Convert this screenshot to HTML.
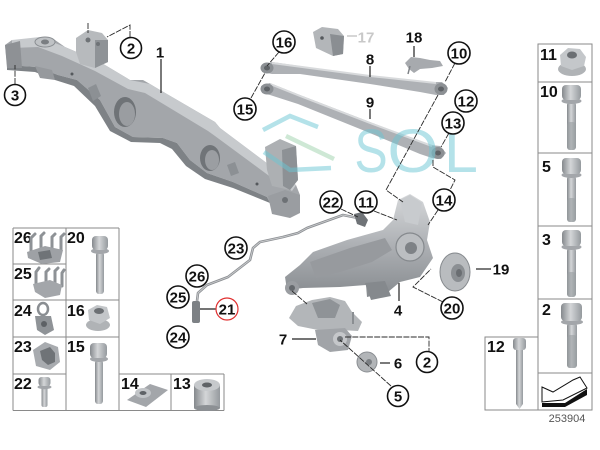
<!DOCTYPE html>
<html><head><meta charset="utf-8"><style>
html,body{margin:0;padding:0;background:#fff;}
body{width:600px;height:450px;overflow:hidden;}
svg{display:block;}
.lb{font-family:"Liberation Sans",Arial,sans-serif;font-weight:bold;font-size:15px;fill:#111;}
.gl{font-family:"Liberation Sans",Arial,sans-serif;font-weight:bold;font-size:16px;fill:#111;}
.ld{stroke:#2a2a2a;stroke-width:0.9;fill:none;stroke-dasharray:6 1.3;}
.ls{stroke:#222;stroke-width:1.2;fill:none;}
.cc{fill:#fff;stroke:#111;stroke-width:1.6;}
.gr{stroke:#8a8a8a;stroke-width:1;fill:none;}
</style></head><body>
<svg width="600" height="450" viewBox="0 0 600 450" xmlns="http://www.w3.org/2000/svg">
<defs>
<linearGradient id="mv" x1="0" y1="0" x2="0" y2="1"><stop offset="0" stop-color="#d6d8da"/><stop offset=".5" stop-color="#adb0b4"/><stop offset="1" stop-color="#878b8f"/></linearGradient>
<linearGradient id="mh" x1="0" y1="0" x2="1" y2="0"><stop offset="0" stop-color="#85898d"/><stop offset=".45" stop-color="#d4d6d8"/><stop offset="1" stop-color="#959a9e"/></linearGradient>
</defs>

<!-- ===== Subframe (1) ===== -->
<polygon points="5,45 12,40 25,40 40,37 55,40 65,47 100,62 130,80 143,80 150,84 160,90 215,122 220,128 280,173 288,180 296,185 300,195 300,212 290,217 275,214 267,197 233,182 207,173 190,160 177,143 163,138 133,137 115,127 100,100 77,80 58,75 37,67 7,65" fill="#a3a6aa"/>
<polygon points="12,40 40,37 65,47 100,62 130,80 150,84 160,90 215,122 220,128 280,173 296,185 292,191 276,181 215,136 208,131 155,99 145,93 128,89 95,71 62,56 38,47 12,48" fill="#c7cacd"/>
<polygon points="7,65 37,67 58,75 77,80 100,100 115,127 133,137 163,138 177,143 190,160 207,173 233,182 267,197 270,203 233,188 205,179 186,166 172,149 160,143 131,142 110,131 95,106 74,86 55,80 35,72 7,70" fill="#7e8286"/>
<polygon points="5,45 20,41 22,68 7,68" fill="#8e9195"/>
<ellipse cx="45" cy="42" rx="10" ry="5" fill="#bfc2c5" stroke="#8a8e92" stroke-width="1"/>
<ellipse cx="45" cy="42" rx="4" ry="2.5" fill="#7a7e82"/>
<polygon points="35,66 52,70 55,80 40,78" fill="#96999d"/>
<ellipse cx="125" cy="112" rx="11" ry="15" fill="#6f7377"/>
<ellipse cx="127" cy="114" rx="8" ry="12" fill="#9a9da1"/>
<ellipse cx="210" cy="158" rx="10" ry="13" fill="#707478"/>
<ellipse cx="212" cy="160" rx="7" ry="10" fill="#9b9ea2"/>
<polygon points="88,88 96,84 101,96 93,101" fill="#8c9094"/>
<polygon points="227,165 235,162 239,173 231,176" fill="#8c9094"/>
<circle cx="72" cy="74" r="1.5" fill="#55595d"/>
<circle cx="257" cy="184" r="1.5" fill="#55595d"/>
<!-- bracket 2 -->
<polygon points="76,38 88,30 102,33 108,40 108,62 95,68 80,64 76,52" fill="#b7babd"/>
<polygon points="95,40 108,40 108,62 95,68" fill="#8f9397"/>
<circle cx="88" cy="40" r="2.5" fill="#6f7377"/>
<circle cx="98" cy="44" r="2" fill="#6f7377"/>
<!-- right bracket -->
<polygon points="265,147 280,139 296,146 298,180 290,190 272,186 267,170" fill="#adb0b3"/>
<polygon points="282,150 296,146 298,180 290,190 283,186" fill="#8d9195"/>
<polygon points="268,196 285,190 300,195 300,213 290,218 272,214" fill="#9a9da1"/>
<circle cx="285" cy="200" r="3" fill="#6d7175"/>

<!-- ===== Arms 8 & 9 ===== -->
<polygon points="262,66 272,62 300,66 370,76 430,82 442,82 448,88 444,95 436,95 420,92 370,84 300,74 272,74 262,72" fill="#aeb1b5"/>
<polyline points="272,63 370,76 436,83" stroke="#d8dadc" stroke-width="2" fill="none"/>
<ellipse cx="267" cy="68" rx="6.5" ry="5.5" fill="#8c9094"/><ellipse cx="267" cy="68" rx="3" ry="2.5" fill="#5f6367"/>
<ellipse cx="441" cy="89" rx="6.5" ry="6" fill="#8c9094"/><ellipse cx="441" cy="89" rx="3" ry="2.5" fill="#5f6367"/>
<polygon points="261,86 270,83 300,95 370,122 430,145 440,146 446,153 441,159 432,158 420,154 365,131 298,104 270,95 262,93" fill="#aeb1b5"/>
<polyline points="270,84 300,96 370,123 432,146" stroke="#d8dadc" stroke-width="2" fill="none"/>
<ellipse cx="267" cy="89" rx="6.5" ry="5.5" fill="#8c9094"/><ellipse cx="267" cy="89" rx="3" ry="2.5" fill="#5f6367"/>
<ellipse cx="438" cy="153" rx="6.5" ry="6" fill="#8c9094"/><ellipse cx="438" cy="153" rx="3" ry="2.5" fill="#5f6367"/>

<!-- part 17 -->
<polygon points="313,32 322,27 338,29 344,36 343,54 333,56 316,48" fill="#b3b6b9"/>
<polygon points="330,34 344,36 343,54 333,56" fill="#8a8e92"/>
<circle cx="322" cy="38" r="1.8" fill="#55595d"/>
<!-- part 18 -->
<polygon points="405,63 411,57 420,58 430,60 440,61 443,66 432,68 420,69 414,73 409,69" fill="#a7aaae"/>
<line x1="410" y1="66" x2="408" y2="74" stroke="#7d8185" stroke-width="1.5"/>

<!-- ===== Knuckle (4) ===== -->
<polygon points="287,290 285,277 300,265 313,252 347,240 383,230 393,220 398,200 410,194 423,202 430,222 427,240 433,258 420,277 400,282 388,292 367,297 366,285 340,287 303,288" fill="url(#mv)"/>
<polygon points="310,262 350,248 385,238 392,250 372,262 340,272 316,278" fill="#979a9e"/>
<polygon points="400,200 410,195 422,203 418,225 405,222" fill="#c8cbce"/>
<polygon points="365,283 385,281 391,296 371,300" fill="#85898d"/>
<circle cx="410" cy="247" r="14" fill="#bbbec1" stroke="#85898d" stroke-width="1.2"/>
<circle cx="411" cy="248" r="6" fill="#7e8286"/>
<ellipse cx="292" cy="288" rx="7" ry="7" fill="#9a9da1"/><circle cx="292" cy="288" r="3" fill="#65696d"/>

<!-- hub 19 -->
<ellipse cx="455" cy="272" rx="15" ry="19" fill="#b9bcbf" stroke="#868a8e" stroke-width="1"/>
<ellipse cx="458" cy="273" rx="7" ry="9" fill="#8b8f93"/>
<ellipse cx="459" cy="273" rx="3" ry="4" fill="#6a6e72"/>

<!-- part 7 -->
<polygon points="289,318 296,306 312,300 330,297 345,301 352,312 362,322 358,331 340,330 318,330 298,326" fill="#b3b6b9"/>
<polygon points="312,303 330,299 340,305 335,318 318,318" fill="#8f9397"/>
<line x1="353" y1="312" x2="353" y2="324" stroke="#8a8e92" stroke-width="2"/>
<polygon points="315,330 345,328 352,336 348,350 330,352 318,345" fill="#a1a4a8"/>
<ellipse cx="340" cy="339" rx="7" ry="7" fill="#c5c7ca"/><circle cx="340" cy="339" r="3" fill="#6f7377"/>

<!-- washer 6 -->
<ellipse cx="367" cy="362" rx="10" ry="10" fill="#b2b5b8" stroke="#8a8e92" stroke-width="1"/>
<circle cx="369" cy="362" r="3" fill="#7b7f83"/>

<!-- sensor cable -->
<polyline points="358,218 343,215 307,228 298,233 283,237 260,242 253,248 250,260 228,277 207,285 198,293 197,301" stroke="#8d9094" stroke-width="2.6" fill="none" stroke-linejoin="round"/>
<polyline points="358,218 343,215 307,228 298,233 283,237 260,242 253,248 250,260 228,277 207,285 198,293 197,301" stroke="#c9cbcd" stroke-width="0.9" fill="none"/>
<polygon points="354,214 362,212 368,220 365,227 357,224" fill="#6f7377"/>
<rect x="192" y="301" width="8" height="22" rx="2" fill="#7d8185"/>

<!-- ===== Watermark ===== -->
<g opacity="0.5">
<polyline points="263,130 290,116 318,127" stroke="#6bc6d4" stroke-width="4.5" fill="none"/>
<line x1="286" y1="136" x2="334" y2="159" stroke="#9ed3ad" stroke-width="4.5"/>
<polyline points="264,152 290,170 331,168" stroke="#6bc6d4" stroke-width="4.5" fill="none"/>
<text transform="translate(371,172) scale(0.82,1)" text-anchor="middle" font-family="Liberation Sans, sans-serif" font-size="61" fill="#6bc6d4">S</text>
<text transform="translate(413,172) scale(1.08,1)" text-anchor="middle" font-family="Liberation Sans, sans-serif" font-size="61" fill="#6bc6d4">O</text>
<text x="444" y="172" font-family="Liberation Sans, sans-serif" font-size="61" fill="#6bc6d4">L</text>
</g>

<!-- ===== Leader lines ===== -->
<line class="ls" x1="161" y1="59" x2="161" y2="93"/>
<line class="ld" x1="15" y1="84" x2="15" y2="65"/>
<line class="ld" x1="88" y1="23" x2="88" y2="33"/>
<polyline class="ld" points="130,37 130,25 107,37"/>
<line class="ld" x1="279" y1="52" x2="267" y2="66"/>
<line class="ld" x1="251" y1="98" x2="265" y2="73"/>
<line class="ls" x1="370" y1="66" x2="370" y2="77"/>
<line class="ls" x1="370" y1="109" x2="370" y2="119"/>
<line class="ls" x1="414" y1="46" x2="414" y2="57"/>
<line class="ls" x1="347" y1="36" x2="357" y2="36" style="stroke:#bbb"/>
<line class="ld" x1="455" y1="63" x2="445" y2="82"/>
<polyline class="ld" points="438,95 386,190 403,202"/>
<line class="ld" x1="449" y1="133" x2="441" y2="147"/>
<polyline class="ld" points="433,160 433,167 455,180 450,190"/>
<line class="ld" x1="438" y1="210" x2="428" y2="225"/>
<line class="ld" x1="341" y1="209" x2="358" y2="217"/>
<line class="ld" x1="374" y1="211" x2="397" y2="220"/>
<polyline class="ld" points="443,302 413,287 431,269"/>
<line class="ls" x1="399" y1="283" x2="399" y2="301"/>
<line class="ls" x1="476" y1="269" x2="491" y2="269"/>
<line class="ls" x1="292" y1="339" x2="316" y2="339"/>
<line class="ls" x1="380" y1="363" x2="390" y2="363"/>
<polyline class="ld" points="345,337 429,337 429,351"/>
<line class="ld" x1="391" y1="386" x2="340" y2="340"/>
<line class="ld" x1="292" y1="291" x2="307" y2="304"/>
<line class="ls" x1="200" y1="309" x2="217" y2="309"/>

<!-- ===== Circled labels ===== -->
<g>
<circle class="cc" cx="131" cy="48" r="10.5"/><text class="lb" x="131" y="53.5" text-anchor="middle">2</text>
<circle class="cc" cx="15" cy="95" r="10.5"/><text class="lb" x="15" y="100.5" text-anchor="middle">3</text>
<circle class="cc" cx="284" cy="42" r="11"/><text class="lb" x="284" y="47.5" text-anchor="middle">16</text>
<circle class="cc" cx="245" cy="109" r="11"/><text class="lb" x="245" y="114.5" text-anchor="middle">15</text>
<circle class="cc" cx="459" cy="53" r="11"/><text class="lb" x="459" y="58.5" text-anchor="middle">10</text>
<circle class="cc" cx="466" cy="101" r="11"/><text class="lb" x="466" y="106.5" text-anchor="middle">12</text>
<circle class="cc" cx="453" cy="123" r="11"/><text class="lb" x="453" y="128.5" text-anchor="middle">13</text>
<circle class="cc" cx="444" cy="200" r="11"/><text class="lb" x="444" y="205.5" text-anchor="middle">14</text>
<circle class="cc" cx="331" cy="202" r="11"/><text class="lb" x="331" y="207.5" text-anchor="middle">22</text>
<circle class="cc" cx="366" cy="202" r="11"/><text class="lb" x="366" y="207.5" text-anchor="middle">11</text>
<circle class="cc" cx="236" cy="248" r="11"/><text class="lb" x="236" y="253.5" text-anchor="middle">23</text>
<circle class="cc" cx="197" cy="276" r="11"/><text class="lb" x="197" y="281.5" text-anchor="middle">26</text>
<circle class="cc" cx="178" cy="297" r="11"/><text class="lb" x="178" y="302.5" text-anchor="middle">25</text>
<circle class="cc" cx="178" cy="337" r="11"/><text class="lb" x="178" y="342.5" text-anchor="middle">24</text>
<circle class="cc" cx="452" cy="308" r="11"/><text class="lb" x="452" y="313.5" text-anchor="middle">20</text>
<circle class="cc" cx="427" cy="362" r="10.5"/><text class="lb" x="427" y="367.5" text-anchor="middle">2</text>
<circle class="cc" cx="398" cy="396" r="10.5"/><text class="lb" x="398" y="401.5" text-anchor="middle">5</text>
<circle cx="227" cy="309" r="11" fill="#fff" stroke="#e03030" stroke-width="1.2"/><text class="lb" x="227" y="314.5" text-anchor="middle">21</text>
</g>

<!-- plain labels -->
<text class="lb" x="160" y="57.5" text-anchor="middle">1</text>
<text class="lb" x="366" y="42.5" text-anchor="middle" style="fill:#c8c8c8">17</text>
<text class="lb" x="370" y="64.5" text-anchor="middle">8</text>
<text class="lb" x="370" y="107.5" text-anchor="middle">9</text>
<text class="lb" x="414" y="42.5" text-anchor="middle">18</text>
<text class="lb" x="283" y="344.5" text-anchor="middle">7</text>
<text class="lb" x="398" y="315.5" text-anchor="middle">4</text>
<text class="lb" x="501" y="274.5" text-anchor="middle">19</text>
<text class="lb" x="398" y="368.5" text-anchor="middle">6</text>

<!-- ===== Bottom-left grid ===== -->
<g class="gr">
<line x1="13" y1="228" x2="13" y2="410.5"/>
<line x1="66" y1="228" x2="66" y2="410.5"/>
<line x1="119" y1="228" x2="119" y2="410.5"/>
<line x1="13" y1="228" x2="119" y2="228"/>
<line x1="13" y1="264" x2="66" y2="264"/>
<line x1="13" y1="300" x2="119" y2="300"/>
<line x1="13" y1="337" x2="119" y2="337"/>
<line x1="13" y1="374" x2="66" y2="374"/>
<line x1="119" y1="374" x2="224" y2="374"/>
<line x1="13" y1="410.5" x2="224" y2="410.5"/>
<line x1="171" y1="374" x2="171" y2="410.5"/>
<line x1="224" y1="374" x2="224" y2="410.5"/>
</g>
<text class="gl" x="14" y="243">26</text>
<text class="gl" x="67" y="243">20</text>
<text class="gl" x="14" y="279">25</text>
<text class="gl" x="14" y="316">24</text>
<text class="gl" x="67" y="316">16</text>
<text class="gl" x="14" y="352">23</text>
<text class="gl" x="67" y="352">15</text>
<text class="gl" x="14" y="389">22</text>
<text class="gl" x="121" y="389">14</text>
<text class="gl" x="173" y="389">13</text>

<!-- 26 clip -->
<g stroke="#8e9296" stroke-width="3" fill="none" stroke-linecap="round">
<polyline points="31,252 31,238 35,234"/><polyline points="41,249 41,236 44,233"/>
<polyline points="52,250 52,237 55,234"/><polyline points="61,251 61,237 64,234"/>
</g>
<polygon points="27,252 45,246 63,250 60,262 42,264 28,258" fill="#9ea1a5"/>
<polygon points="38,252 50,250 52,258 40,260" fill="#6f7377"/>
<!-- 25 clip -->
<g stroke="#8e9296" stroke-width="3" fill="none" stroke-linecap="round">
<polyline points="36,285 36,272 39,268"/><polyline points="46,282 46,272 49,269"/>
<polyline points="55,284 55,271 58,268"/><polyline points="62,286 62,273 64,270"/>
</g>
<polygon points="33,284 50,280 62,285 60,295 45,298 35,292" fill="#a3a6aa"/>
<!-- 24 ring clip -->
<ellipse cx="43" cy="309" rx="5" ry="6" stroke="#8a8e92" stroke-width="2.5" fill="none"/>
<polygon points="35,316 51,316 54,330 45,335 37,330" fill="#8f9397"/>
<circle cx="44" cy="324" r="3" fill="#5d6165"/>
<!-- 23 clip -->
<polygon points="33,350 45,342 58,347 60,362 50,370 36,366" fill="#a8abaf"/>
<polygon points="40,351 50,347 55,353 55,362 48,365 42,360" fill="#6f7377"/>
<!-- 22 bolt -->
<rect x="41.5" y="387" width="6" height="20" rx="2" fill="url(#mh)"/>
<ellipse cx="44.5" cy="387" rx="7" ry="2.2" fill="#a3a6aa"/>
<rect x="38.5" y="377" width="12" height="9" rx="3" fill="url(#mh)"/>
<!-- 20 bolt -->
<rect x="96" y="252" width="8" height="42" rx="3" fill="url(#mh)"/>
<ellipse cx="100" cy="251" rx="9" ry="3" fill="#a3a6aa"/>
<rect x="92" y="236" width="16" height="14" rx="4" fill="url(#mh)"/>
<!-- 16 nut -->
<ellipse cx="98" cy="325" rx="12" ry="6" fill="#b0b3b6"/>
<polygon points="88,310 97,305 107,307 110,318 100,324 89,320" fill="#c3c6c9"/>
<ellipse cx="99" cy="311" rx="5" ry="3" fill="#6c7074"/>
<!-- 15 bolt -->
<rect x="95" y="360" width="8" height="44" rx="3" fill="url(#mh)"/>
<ellipse cx="99" cy="359" rx="9" ry="3" fill="#a3a6aa"/>
<rect x="90" y="343" width="17" height="15" rx="4" fill="url(#mh)"/>
<!-- 14 clip nut -->
<polygon points="127,400 150,384 168,390 146,407" fill="#a3a6aa"/>
<ellipse cx="143" cy="393" rx="8" ry="5" fill="#c2c5c8"/>
<ellipse cx="143" cy="393" rx="3.5" ry="2" fill="#5f6367"/>
<!-- 13 bushing -->
<rect x="194" y="385" width="26" height="23" fill="url(#mh)"/>
<ellipse cx="207" cy="385" rx="13" ry="6" fill="#c6c9cc"/>
<ellipse cx="207" cy="385" rx="5" ry="2.5" fill="#5f6367"/>
<ellipse cx="207" cy="408" rx="13" ry="3" fill="#8c9094"/>

<!-- ===== Right column ===== -->
<g class="gr">
<rect x="538" y="44" width="54" height="366"/>
<line x1="538" y1="82" x2="592" y2="82"/>
<line x1="538" y1="153" x2="592" y2="153"/>
<line x1="538" y1="226" x2="592" y2="226"/>
<line x1="538" y1="299" x2="592" y2="299"/>
<line x1="538" y1="373" x2="592" y2="373"/>
<polyline points="538,337 485,337 485,410 538,410"/>
</g>
<text class="gl" x="540" y="60">11</text>
<text class="gl" x="540" y="97">10</text>
<text class="gl" x="542" y="172">5</text>
<text class="gl" x="542" y="245">3</text>
<text class="gl" x="542" y="315">2</text>
<text class="gl" x="487" y="352">12</text>
<!-- 11 nut -->
<ellipse cx="572" cy="69" rx="14" ry="7" fill="#b0b3b6"/>
<polygon points="560,55 568,48 580,49 586,57 584,66 572,70 561,66" fill="#c4c7ca"/>
<ellipse cx="572" cy="55" rx="5" ry="3.5" fill="#6b6f73"/>
<!-- 10 bolt -->
<rect x="567" y="102" width="9" height="48" rx="3" fill="url(#mh)"/>
<rect x="567" y="122" width="9" height="28" rx="3" fill="#9a9ea2" opacity=".6"/>
<ellipse cx="571.5" cy="101" rx="10" ry="3" fill="#a3a6aa"/>
<rect x="562" y="85" width="19" height="15" rx="4" fill="url(#mh)"/>
<!-- 5 bolt -->
<rect x="567" y="176" width="9" height="46" rx="3" fill="url(#mh)"/>
<rect x="567" y="198" width="9" height="24" rx="3" fill="#9a9ea2" opacity=".6"/>
<ellipse cx="571.5" cy="175" rx="10" ry="3" fill="#a3a6aa"/>
<rect x="562" y="158" width="19" height="16" rx="4" fill="url(#mh)"/>
<!-- 3 bolt -->
<rect x="567" y="248" width="9" height="49" rx="3" fill="url(#mh)"/>
<rect x="567" y="272" width="9" height="25" rx="3" fill="#9a9ea2" opacity=".6"/>
<ellipse cx="571.5" cy="247" rx="10" ry="3" fill="#a3a6aa"/>
<rect x="562" y="230" width="19" height="16" rx="4" fill="url(#mh)"/>
<!-- 2 bolt -->
<rect x="567" y="323" width="10" height="45" rx="3" fill="url(#mh)"/>
<rect x="567" y="335" width="10" height="33" rx="3" fill="#9a9ea2" opacity=".6"/>
<ellipse cx="572" cy="322" rx="11" ry="3" fill="#a3a6aa"/>
<rect x="561" y="303" width="21" height="18" rx="4" fill="url(#mh)"/>
<!-- 12 bolt -->
<polygon points="516,350 523,350 523,404 519.5,409 516,404" fill="url(#mh)"/>
<rect x="513" y="338" width="13" height="12" rx="3" fill="url(#mh)"/>
<!-- arrow icon -->
<polygon points="542,387 553,392 573,380 580,377 587,388 563,400 542,402" fill="#fff" stroke="#111" stroke-width="1"/>
<polygon points="542,403 565,403 587,389 587,395 565,407 542,407" fill="#111"/>
<text x="567" y="422" text-anchor="middle" font-family="Liberation Sans, Arial, sans-serif" font-size="11" fill="#555">253904</text>
</svg>
</body></html>
